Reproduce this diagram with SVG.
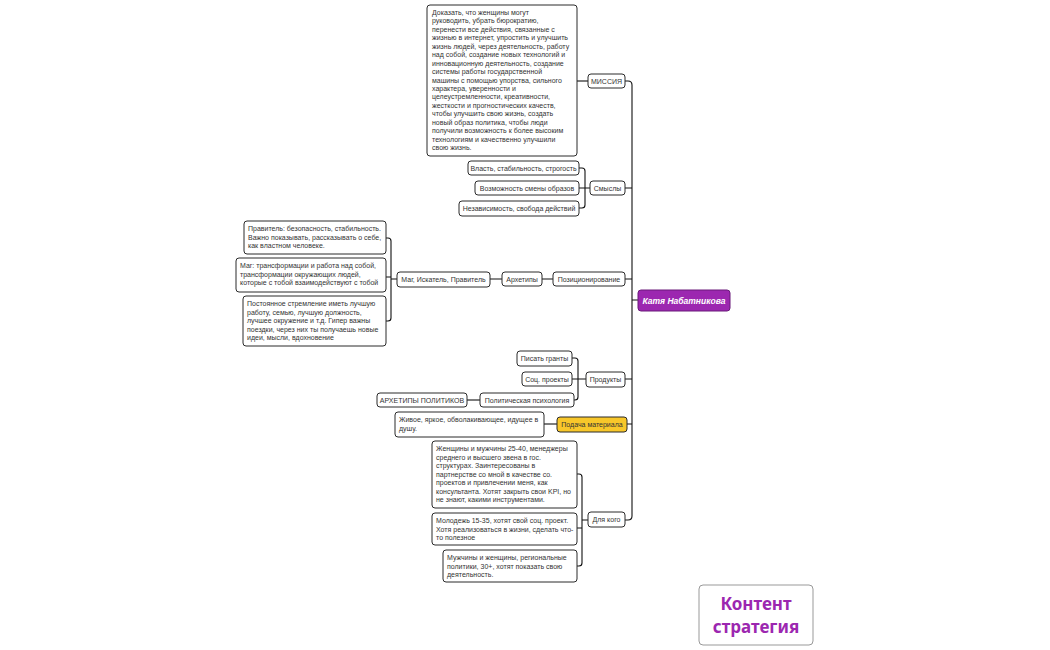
<svg xmlns="http://www.w3.org/2000/svg" width="1050" height="650" viewBox="0 0 1050 650">
<style>
.b{fill:#fff;stroke:#2b2b2b;stroke-width:1}
.t{font-family:"Liberation Sans",Arial,sans-serif;font-size:7px;fill:#333}
.c{text-anchor:middle}
.ln{fill:none;stroke:#111;stroke-width:1.1}
</style>
<rect width="1050" height="650" fill="#fff"/>
<g id="connectors" class="ln">
<path d="M625,81 H628 Q632,81 632,85 V516 Q632,520 628,520 H625"/>
<path d="M625,188 H632 M625,279 H632 M625,379 H632 M627,424 H632 M632,300 H638"/>
<path d="M577,81 H588"/>
<path d="M579,168 H582 Q585,168 585,171 V205 Q585,208 582,208 H579 M579,188 H590"/>
<path d="M542,279 H553 M490,279 H502"/>
<path d="M386,238 H388 Q391,238 391,241 V318 Q391,321 388,321 H386 M386,277 H391 M391,279 H397"/>
<path d="M572,358 H575 Q578,358 578,361 V397 Q578,400 575,400 H574 M572,379 H586"/>
<path d="M467,400 H480"/>
<path d="M544,424 H557"/>
<path d="M577,474 H579 Q582,474 582,477 V563 Q582,566 579,566 H577 M577,528 H582 M582,520 H588"/>
</g>
<g id="central">
<rect x="638" y="290" width="92" height="21" rx="3" fill="#9c27b0" stroke="#6a1b7a" stroke-width="1"/>
<text x="684" y="303.5" class="c" style="font-family:'Liberation Sans',Arial,sans-serif;font-size:8.5px;font-weight:bold;font-style:italic;fill:#fff">Катя Набатникова</text>
</g>
<g id="missiya">
<rect class="b" x="588" y="74" width="37" height="14" rx="3"/>
<text class="t c" x="606.5" y="83.5">МИССИЯ</text>
</g>
<g id="missiya-text">
<rect class="b" x="427" y="5" width="150" height="151" rx="3"/>
<text class="t" x="432" y="15">
<tspan x="432" dy="0">Доказать, что женщины могут</tspan>
<tspan x="432" dy="8.45">руководить, убрать бюрократию,</tspan>
<tspan x="432" dy="8.45">перенести все действия, связанные с</tspan>
<tspan x="432" dy="8.45">жизнью в интернет, упростить и улучшить</tspan>
<tspan x="432" dy="8.45">жизнь людей, через деятельность, работу</tspan>
<tspan x="432" dy="8.45">над собой, создание новых технологий и</tspan>
<tspan x="432" dy="8.45">инновационную деятельность, создание</tspan>
<tspan x="432" dy="8.45">системы работы государственной</tspan>
<tspan x="432" dy="8.45">машины с помощью упорства, сильного</tspan>
<tspan x="432" dy="8.45">характера, уверенности и</tspan>
<tspan x="432" dy="8.45">целеустремленности, креативности,</tspan>
<tspan x="432" dy="8.45">жесткости и прогностических качеств,</tspan>
<tspan x="432" dy="8.45">чтобы улучшить свою жизнь, создать</tspan>
<tspan x="432" dy="8.45">новый образ политика, чтобы люди</tspan>
<tspan x="432" dy="8.45">получили возможность к более высоким</tspan>
<tspan x="432" dy="8.45">технологиям и качественно улучшили</tspan>
<tspan x="432" dy="8.45">свою жизнь.</tspan>
</text>
</g>
<g id="smysly">
<rect class="b" x="590" y="181" width="35" height="14" rx="3"/>
<text class="t c" x="607.5" y="190.5">Смыслы</text>
</g>
<g id="smysl-1">
<rect class="b" x="468" y="161" width="111" height="14" rx="3"/>
<text class="t c" x="523.5" y="170.5">Власть, стабильность, строгость</text>
</g>
<g id="smysl-2">
<rect class="b" x="475" y="181" width="104" height="14" rx="3"/>
<text class="t c" x="527" y="190.5">Возможность смены образов</text>
</g>
<g id="smysl-3">
<rect class="b" x="459" y="201" width="120" height="15" rx="3"/>
<text class="t c" x="519" y="211">Независимость, свобода действий</text>
</g>
<g id="pozic">
<rect class="b" x="553" y="272" width="72" height="14" rx="3"/>
<text class="t c" x="589" y="281.5">Позиционирование</text>
</g>
<g id="arhetipy">
<rect class="b" x="502" y="272" width="40" height="14" rx="3"/>
<text class="t c" x="522" y="281.5">Архетипы</text>
</g>
<g id="mag-iskatel">
<rect class="b" x="397" y="272" width="93" height="15" rx="3"/>
<text class="t c" x="443.5" y="282">Маг, Искатель, Правитель</text>
</g>
<g id="pravitel">
<rect class="b" x="244" y="221" width="142" height="33" rx="3"/>
<text class="t"><tspan x="248" y="231">Правитель: безопасность, стабильность.</tspan><tspan x="248" y="239.5">Важно показывать, рассказывать о себе,</tspan><tspan x="248" y="248">как властном человеке.</tspan></text>
</g>
<g id="mag">
<rect class="b" x="236" y="258" width="150" height="34" rx="3"/>
<text class="t"><tspan x="240" y="268">Маг: трансформации и работа над собой,</tspan><tspan x="240" y="276.5">трансформации окружающих людей,</tspan><tspan x="240" y="285">которые с тобой взаимодействуют с тобой</tspan></text>
</g>
<g id="iskatel">
<rect class="b" x="243" y="296" width="143" height="50" rx="3"/>
<text class="t"><tspan x="247" y="306">Постоянное стремление иметь лучшую</tspan><tspan x="247" y="314.5">работу, семью, лучшую должность,</tspan><tspan x="247" y="323">лучшее окружение и т.д.  Гипер важны</tspan><tspan x="247" y="331.5">поездки, через них ты получаешь новые</tspan><tspan x="247" y="340">идеи, мысли, вдохновение</tspan></text>
</g>
<g id="produkty">
<rect class="b" x="586" y="372" width="39" height="15" rx="3"/>
<text class="t c" x="605.5" y="382">Продукты</text>
</g>
<g id="granty">
<rect class="b" x="517" y="351" width="55" height="15" rx="3"/>
<text class="t c" x="544.5" y="361">Писать гранты</text>
</g>
<g id="soc-proekty">
<rect class="b" x="522" y="372" width="50" height="14" rx="3"/>
<text class="t c" x="547" y="381.5">Соц. проекты</text>
</g>
<g id="polit-psih">
<rect class="b" x="480" y="393" width="94" height="14" rx="3"/>
<text class="t c" x="527" y="402.5">Политическая психология</text>
</g>
<g id="arhetipy-politikov">
<rect class="b" x="377" y="393" width="90" height="14" rx="3"/>
<text class="t c" x="422" y="402.5">АРХЕТИПЫ ПОЛИТИКОВ</text>
</g>
<g id="podacha">
<rect x="557" y="417" width="70" height="15" rx="3" fill="#f8c72a" stroke="#2b2b2b" stroke-width="1"/>
<text class="t c" x="592" y="427">Подача материала</text>
</g>
<g id="zhivoe">
<rect class="b" x="395" y="412" width="149" height="25" rx="3"/>
<text class="t"><tspan x="399" y="422">Живое, яркое, обволакивающее, идущее в</tspan><tspan x="399" y="430.5">душу.</tspan></text>
</g>
<g id="dlya-kogo">
<rect class="b" x="588" y="512" width="37" height="15" rx="3"/>
<text class="t c" x="606.5" y="522">Для кого</text>
</g>
<g id="auditoriya-1">
<rect class="b" x="432" y="441" width="145" height="67" rx="3"/>
<text class="t"><tspan x="436" y="451">Женщины и мужчины 25-40, менеджеры</tspan><tspan x="436" y="459.5">среднего и высшего звена в гос.</tspan><tspan x="436" y="468">структурах. Заинтересованы в</tspan><tspan x="436" y="476.5">партнерстве со мной в качестве со.</tspan><tspan x="436" y="485">проектов и привлечении меня, как</tspan><tspan x="436" y="493.5">консультанта. Хотят закрыть свои KPI, но</tspan><tspan x="436" y="502">не знают, какими инструментами.</tspan></text>
</g>
<g id="auditoriya-2">
<rect class="b" x="432" y="513" width="145" height="32" rx="3"/>
<text class="t"><tspan x="436" y="523">Молодежь 15-35, хотят свой соц. проект.</tspan><tspan x="436" y="531.5">Хотя реализоваться в жизни, сделать что-</tspan><tspan x="436" y="540">то полезное</tspan></text>
</g>
<g id="auditoriya-3">
<rect class="b" x="443" y="550" width="134" height="32" rx="3"/>
<text class="t"><tspan x="447" y="560">Мужчины и женщины, региональные</tspan><tspan x="447" y="568.5">политики, 30+, хотят показать свою</tspan><tspan x="447" y="577">деятельность.</tspan></text>
</g>
<g id="title">
<rect x="699" y="585" width="114" height="60" rx="4" fill="#fff" stroke="#999" stroke-width="1"/>
<text x="756" y="610" class="c" style="font-family:'Noto Sans','Open Sans',sans-serif;font-size:17px;font-weight:bold;fill:#9c27b0">Контент</text>
<text x="756" y="633" class="c" style="font-family:'Noto Sans','Open Sans',sans-serif;font-size:17px;font-weight:bold;fill:#9c27b0">стратегия</text>
</g>
</svg>
